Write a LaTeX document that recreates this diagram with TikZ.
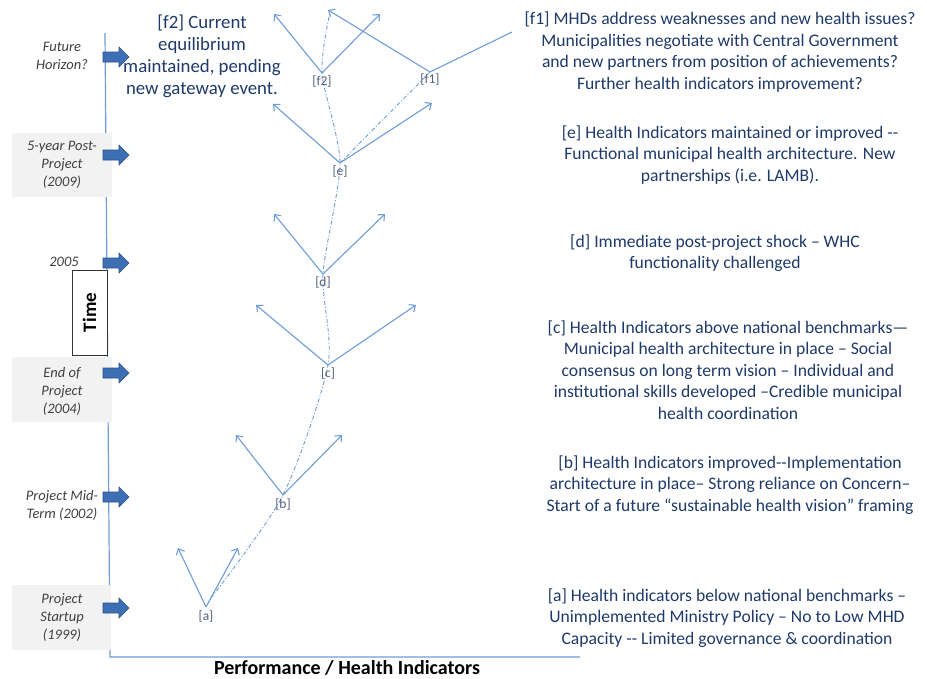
\documentclass[tikz,border=0pt]{standalone}
\usepackage{fontspec}
\setmainfont{Carlito}
\usetikzlibrary{arrows.meta}
\definecolor{ln}{HTML}{6F9DD8}
\definecolor{txt}{HTML}{1F3A6A}
\definecolor{arw}{HTML}{3D6FB5}
\definecolor{arwd}{HTML}{2B5088}
\definecolor{lab}{HTML}{404040}
\definecolor{ptc}{HTML}{55607A}
\definecolor{boxg}{HTML}{F2F2F2}
\begin{document}
\begin{tikzpicture}[x=1pt,y=-1pt,
  branch/.style={draw=ln, line width=1.1pt, -{Straight Barb[length=5pt,width=9pt]}},
  plainbranch/.style={draw=ln, line width=1.1pt},
  trail/.style={draw=ln, line width=0.9pt, dash pattern=on 4pt off 2pt on 1pt off 2pt},
  ptlabel/.style={text=ptc, inner sep=1pt, font=\fontsize{13.5}{14}\selectfont},
  desc/.style={align=center, text=txt, inner sep=0pt, font=\fontsize{17.6}{21.5}\selectfont},
  bigdesc/.style={align=center, text=txt, inner sep=0pt, font=\fontsize{18.8}{22}\selectfont},
  timelab/.style={align=center, text=lab, inner sep=0pt, font=\fontsize{14.5}{18}\selectfont\itshape},
  graybox/.style={fill=boxg, draw=none},
  blockarr/.style={fill=arw, draw=arwd, line width=0.6pt},
  axisline/.style={draw=ln, line width=1.2pt}]
\useasboundingbox (0,0) rectangle (927,678);
\fill[white] (0,0) rectangle (927,678);

% axes
\coordinate (axtop) at (105,33);
\coordinate (axorig) at (110,657);
\coordinate (axend) at (580,657);
\draw[axisline] (axtop) -- (axorig) -- (axend);

% gray boxes
\fill[graybox] (12,133) rectangle (112,197);
\fill[graybox] (12,357) rectangle (112,422);
\fill[graybox] (12,585) rectangle (111,650);

% time box
\node[draw=black!80, fill=white, line width=1pt, rotate=90, minimum width=85pt, minimum height=35pt, inner sep=0pt,
      font=\fontsize{19}{20}\selectfont\bfseries] (time) at (89.5,312.5) {Time};

% block arrows
\foreach \y in {57,155,263,373,497,608}
  \filldraw[blockarr] (103,\y-5) -- (119,\y-5) -- (119,\y-10) -- (129,\y) -- (119,\y+10) -- (119,\y+5) -- (103,\y+5) -- cycle;

% time labels
\node[timelab] (tf) at (62,56) {Future\\Horizon?};
\node[timelab] (t5) at (62,165) {5-year Post-\\Project\\(2009)};
\node[timelab] (t05) at (64,262) {2005};
\node[timelab] (tend) at (62,391) {End of\\Project\\(2004)};
\node[timelab] (tmid) at (62,505) {Project Mid-\\Term (2002)};
\node[timelab] (tstart) at (62,618) {Project\\Startup\\(1999)};

% vertices and tips
\coordinate (va) at (206,607);  \coordinate (aL) at (178,548);  \coordinate (aR) at (238,548);
\coordinate (vb) at (283,495);  \coordinate (bL) at (236,435);  \coordinate (bR) at (342,435);
\coordinate (vc) at (328,365);  \coordinate (cL) at (256,305);  \coordinate (cR) at (416,305);
\coordinate (vd) at (323,274);  \coordinate (dL) at (274,214);  \coordinate (dR) at (385,214);
\coordinate (ve) at (340,163);  \coordinate (eL) at (273,104);  \coordinate (eR) at (432,103);
\coordinate (vf2) at (322,73);  \coordinate (f2L) at (274,14);  \coordinate (f2R) at (380,14);
\coordinate (vf1) at (430,72);  \coordinate (f1L) at (328,10);  \coordinate (f1R) at (512,32);
\coordinate (ftop) at (330,12);
\coordinate (astart) at (211,598);

% trail
\draw[trail] plot[smooth, tension=0.45] coordinates {(astart) (vb) (vc) (vd) (ve) (vf2) (ftop)};
\draw[trail] (ve) -- (vf1);

% branches
\foreach \v/\l/\r in {va/aL/aR, vb/bL/bR, vc/cL/cR, vd/dL/dR, ve/eL/eR, vf2/f2L/f2R}{
  \draw[branch] (\v) -- (\l);
  \draw[branch] (\v) -- (\r);
}
\draw[branch] (vf1) -- (f1L);
\draw[plainbranch] (vf1) -- (f1R);

% point labels
\node[ptlabel] (la) at (206,617) {[a]};
\node[ptlabel] (lb) at (283,505) {[b]};
\node[ptlabel] (lc) at (328,374) {[c]};
\node[ptlabel] (ld) at (323,283) {[d]};
\node[ptlabel] (le) at (340,172) {[e]};
\node[ptlabel] (lf2) at (322,82) {[f2]};
\node[ptlabel] (lf1) at (430,80) {[f1]};

% descriptions
\node[bigdesc] (df2) at (202,56) {[f2] Current\\equilibrium\\maintained, pending\\new gateway event.};
\node[desc] (df1) at (720,52) {[f1] MHDs address weaknesses and new health issues?\\Municipalities negotiate with Central Government\\and new partners from position of achievements?\\Further health indicators improvement?};
\node[desc] (de) at (730,155) {[e] Health Indicators maintained or improved -{}-\\Functional municipal health architecture. New\\partnerships (i.e. LAMB).};
\node[desc] (dd) at (715,253) {[d] Immediate post-project shock – WHC\\functionality challenged};
\node[desc] (dc) at (728,370) {[c] Health Indicators above national benchmarks—\\Municipal health architecture in place – Social\\consensus on long term vision – Individual and\\institutional skills developed –Credible municipal\\health coordination};
\node[desc] (db) at (730,485) {[b] Health Indicators improved-{}-Implementation\\architecture in place– Strong reliance on Concern–\\Start of a future “sustainable health vision” framing};
\node[desc] (da) at (727,618) {[a] Health indicators below national benchmarks –\\Unimplemented Ministry Policy – No to Low MHD\\Capacity -{}- Limited governance \& coordination};

% axis label
\node[inner sep=0pt, font=\fontsize{20}{21}\selectfont\bfseries] (xlab) at (347,668) {Performance / Health Indicators};
\end{tikzpicture}
\end{document}
